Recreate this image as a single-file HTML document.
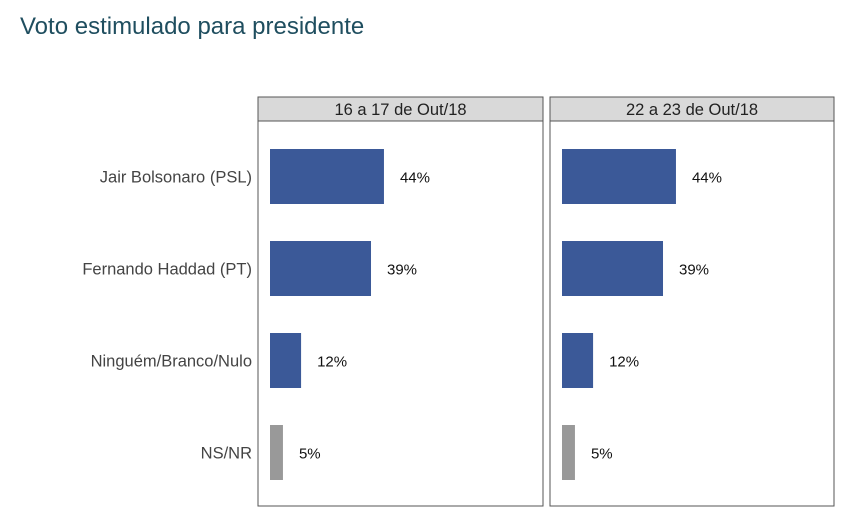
<!DOCTYPE html>
<html><head><meta charset="utf-8"><style>
body{margin:0;width:842px;height:511px;background:#fff;overflow:hidden;font-family:"Liberation Sans",sans-serif}
</style></head><body>
<svg width="842" height="511">
<text x="20" y="34" font-size="24" fill="#1f4e5f" font-family="Liberation Sans, sans-serif">Voto estimulado para presidente</text>
<g id="g"></g>
</svg>
<script>
const categories=["Jair Bolsonaro (PSL)","Fernando Haddad (PT)","Ninguém/Branco/Nulo","NS/NR"];
const panels=["16 a 17 de Out/18","22 a 23 de Out/18"];
const values1=[44,39,12,5];
const values2=[44,39,12,5];
const colors=["#3b5998","#3b5998","#3b5998","#999999"];
const series=[values1,values2];
const gEl=document.getElementById('g');
const SVGNS='http://www.w3.org/2000/svg';
function mk(t,a){const e=document.createElementNS(SVGNS,t);for(const k in a)e.setAttribute(k,a[k]);gEl.appendChild(e);return e;}
const panelX=[258,550], panelW=[285,284], panelTop=97, stripH=24, panelBottom=506;
const scaleX=v=>v*2.59;
const rowY=i=>176.5+i*92;
categories.forEach((c,i)=>{
  const t=mk('text',{x:252,y:rowY(i)+6,'text-anchor':'end','font-size':16.5,fill:'#444'});
  t.textContent=c;
  
  
});
panels.forEach((p,j)=>{
  const x0=panelX[j], pw=panelW[j];
  const s=mk('rect',{x:x0,y:panelTop,width:pw,height:stripH,fill:'#d9d9d9',stroke:'#555'});
  
  
  const st=mk('text',{x:x0+pw/2,y:panelTop+18,'text-anchor':'middle','font-size':16.5,fill:'#222'});
  st.textContent=p;
  
  
  const b=mk('rect',{x:x0,y:panelTop+stripH,width:pw,height:panelBottom-panelTop-stripH,fill:'none',stroke:'#555'});
  
  
  series[j].forEach((v,i)=>{
    const bx=x0+12, w=scaleX(v);
    const r=mk('rect',{x:bx,y:rowY(i)-27.5,width:w,height:55,fill:colors[i]});
    
    
    const t=mk('text',{x:bx+w+16,y:rowY(i)+6,'font-size':15,fill:'#111'});
    t.textContent=v+'%';
    
    
  });
});
</script>
</body></html>
